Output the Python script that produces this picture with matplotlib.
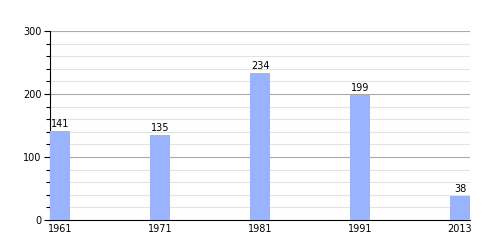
import matplotlib
matplotlib.use('Agg')
import matplotlib.pyplot as plt
from matplotlib.ticker import MultipleLocator

years = ['1961', '1971', '1981', '1991', '2013']
population = [141, 135, 234, 199, 38]

fig = plt.figure(figsize=(5, 2.5), dpi=100)
ax = fig.add_axes([0.1, 0.12, 0.84, 0.756])

pos = list(range(len(years)))
bars = ax.bar(pos, population, width=0.2, color='#99b3ff', zorder=3)

# value labels above bars
for x, v in zip(pos, population):
    ax.text(x, v + 3, str(v), ha='center', va='bottom', fontsize=7, zorder=4)

ax.set_xlim(-0.1, 4.1)
ax.set_ylim(0, 300)
ax.set_xticks(pos)
ax.set_xticklabels(years)
ax.yaxis.set_major_locator(MultipleLocator(100))
ax.yaxis.set_minor_locator(MultipleLocator(20))

ax.grid(axis='y', which='major', color='#aaaaaa', linewidth=0.8, zorder=0)
ax.grid(axis='y', which='minor', color='#e3e3e3', linewidth=0.8, zorder=0)

for side in ['top', 'right']:
    ax.spines[side].set_visible(False)
ax.spines['left'].set_linewidth(0.8)
ax.spines['bottom'].set_linewidth(0.8)

ax.tick_params(axis='x', length=0, labelsize=7, pad=3)
ax.tick_params(axis='y', which='major', length=4, width=0.8, labelsize=7, pad=2)
ax.tick_params(axis='y', which='minor', length=3, width=0.8)

fig.savefig('out.png', dpi=100)
